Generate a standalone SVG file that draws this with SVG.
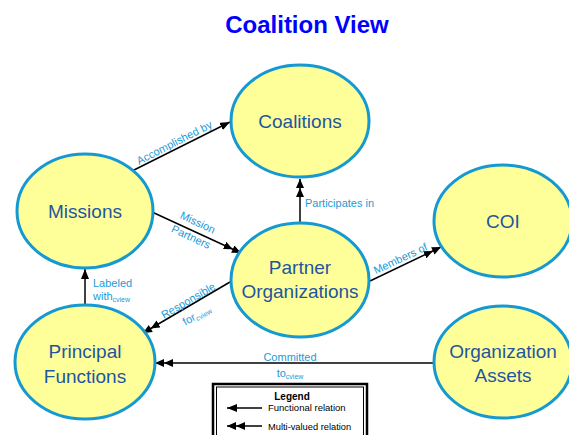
<svg xmlns="http://www.w3.org/2000/svg" width="569" height="435" viewBox="0 0 569 435">
  <style>
    .node ellipse { fill: #ffff99; stroke: #1499d1; stroke-width: 3; }
    .node text { font-family: "Liberation Sans", Arial, sans-serif; font-size: 19px; fill: #1e56a0; text-anchor: middle; }
    .edge { fill: none; stroke: #000; stroke-width: 1.5; }
    .lbl { font-family: "Liberation Sans", Arial, sans-serif; font-size: 11px; fill: #1a9bd7; }
    .sub { font-size: 7px; }
    .legend text { font-family: "Liberation Sans", Arial, sans-serif; fill: #000; }
  </style>
  <defs>
    <marker id="single" markerUnits="userSpaceOnUse" viewBox="0 0 10 8" refX="10" refY="4" markerWidth="10" markerHeight="8" orient="auto">
      <path d="M0,0 L10,4 L0,8 z" fill="#000"/>
    </marker>
    <marker id="double" markerUnits="userSpaceOnUse" viewBox="0 0 18 8" refX="18" refY="4" markerWidth="18" markerHeight="8" orient="auto">
      <path d="M0,0 L9,4 L0,8 z M9,0 L18,4 L9,8 z" fill="#000"/>
    </marker>
  </defs>

  <rect width="569" height="435" fill="#fff"/>

  <text x="307" y="33" font-family="Liberation Sans, Arial, sans-serif" font-size="24" font-weight="bold" fill="#0000ff" text-anchor="middle">Coalition View</text>

  <!-- connectors -->
  <g id="connectors">
    <path class="edge" d="M132,171 L230,122" marker-end="url(#single)"/>
    <path class="edge" d="M152,212 L241,253" marker-end="url(#double)"/>
    <path class="edge" d="M300,222 L300,179" marker-end="url(#double)"/>
    <path class="edge" d="M370,281 L441,247" marker-end="url(#double)"/>
    <path class="edge" d="M230,282 L143,333" marker-end="url(#double)"/>
    <path class="edge" d="M85,305 L85,269" marker-end="url(#single)"/>
    <path class="edge" d="M434,363 L155,363" marker-end="url(#double)"/>

    <text class="lbl" text-anchor="middle" transform="translate(176,146) rotate(-27)">Accomplished by</text>
    <g transform="translate(194.5,229.5) rotate(25)">
      <text class="lbl" text-anchor="middle" y="-4">Mission</text>
      <text class="lbl" text-anchor="middle" y="12">Partners</text>
    </g>
    <text class="lbl" x="305" y="207">Participates in</text>
    <text class="lbl" text-anchor="middle" transform="translate(402,262) rotate(-25)">Members of</text>
    <g transform="translate(192,307) rotate(-30)">
      <text class="lbl" text-anchor="middle" y="-3.6">Responsible</text>
      <text class="lbl" text-anchor="middle" y="13">for<tspan class="sub" dy="2">cview</tspan></text>
    </g>
    <text class="lbl" x="93" y="287" font-size="11.5">Labeled</text>
    <text class="lbl" x="93" y="300" font-size="11.5">with<tspan class="sub" dy="2">cview</tspan></text>
    <text class="lbl" x="290" y="361" text-anchor="middle" font-size="11.5">Committed</text>
    <text class="lbl" x="290" y="377" text-anchor="middle" font-size="11.5">to<tspan class="sub" dy="2">cview</tspan></text>
  </g>

  <!-- nodes -->
  <g id="coalitions" class="node">
    <ellipse cx="300" cy="121" rx="69" ry="56"/>
    <text x="300" y="128">Coalitions</text>
  </g>
  <g id="missions" class="node">
    <ellipse cx="85" cy="211" rx="68" ry="57"/>
    <text x="85" y="218">Missions</text>
  </g>
  <g id="coi" class="node">
    <ellipse cx="503" cy="221" rx="69" ry="56"/>
    <text x="503" y="228">COI</text>
  </g>
  <g id="partner-organizations" class="node">
    <ellipse cx="300" cy="280" rx="69" ry="57"/>
    <text x="300" y="274">Partner</text>
    <text x="300" y="298">Organizations</text>
  </g>
  <g id="principal-functions" class="node">
    <ellipse cx="85" cy="362" rx="70" ry="57"/>
    <text x="85" y="358">Principal</text>
    <text x="85" y="383">Functions</text>
  </g>
  <g id="organization-assets" class="node">
    <ellipse cx="503" cy="362" rx="69" ry="56"/>
    <text x="503" y="358">Organization</text>
    <text x="503" y="382">Assets</text>
  </g>

  <!-- legend -->
  <g id="legend" class="legend">
    <rect x="213" y="384" width="154" height="70" fill="#fff" stroke="#000" stroke-width="2.5"/>
    <rect x="216.5" y="387" width="147" height="64" fill="none" stroke="#000" stroke-width="1"/>
    <text x="292" y="400" font-size="10" font-weight="bold" text-anchor="middle">Legend</text>
    <path class="edge" d="M262,408 L227,408" marker-end="url(#single)"/>
    <text x="268" y="411" font-size="9.5">Functional relation</text>
    <path class="edge" d="M262,426 L227,426" marker-end="url(#double)"/>
    <text x="268" y="430" font-size="9.3">Multi-valued relation</text>
  </g>
</svg>
